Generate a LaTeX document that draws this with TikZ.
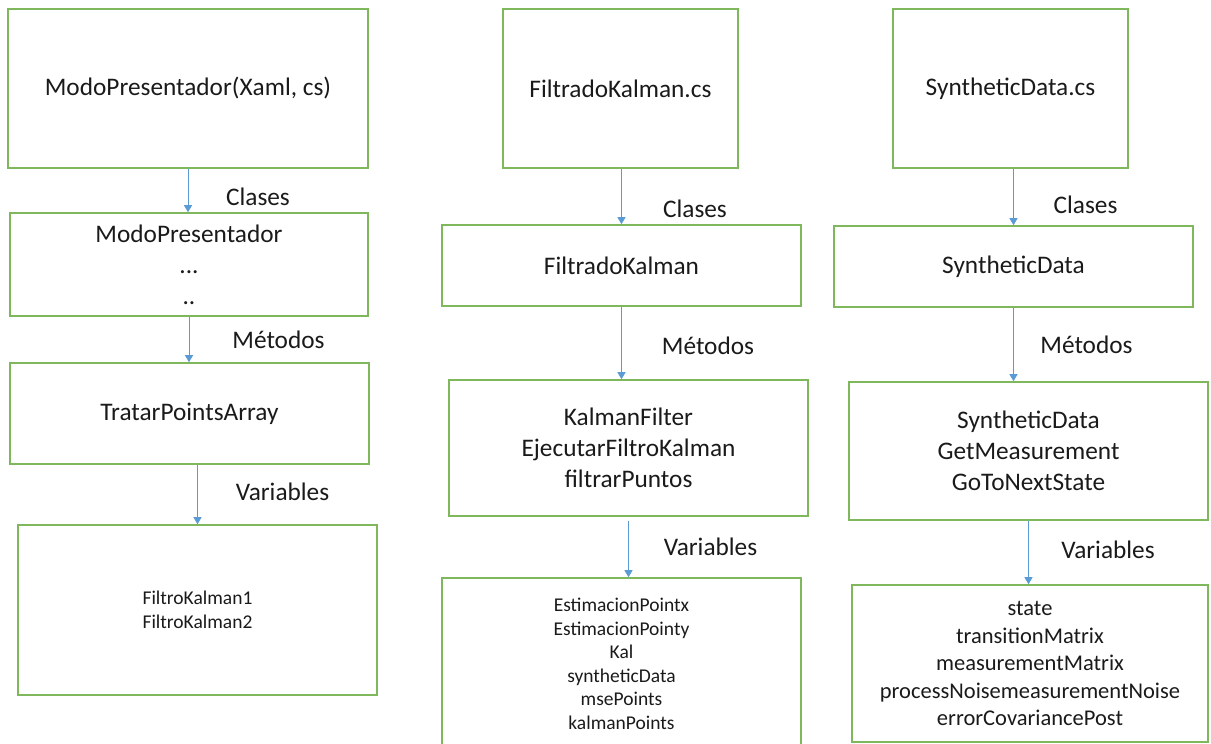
\documentclass[tikz,border=0pt]{standalone}
\usepackage{fontspec}
\setmainfont{Carlito}
\usetikzlibrary{arrows.meta}

\definecolor{verdecaja}{HTML}{7FB85C}
\definecolor{azulflecha}{HTML}{5B9BD5}
\definecolor{texto}{HTML}{1A1A1A}

\tikzset{
  caja/.style={draw=verdecaja, line width=1.6pt, align=center, inner sep=0pt,
    text=texto, font=\fontsize{25.3}{31}\selectfont},
  cajachica/.style={caja, font=\fontsize{19.5}{23.5}\selectfont},
  cajamedia/.style={caja, font=\fontsize{22.5}{27.5}\selectfont},
  flecha/.style={draw=azulflecha, line width=1pt,
    -{Triangle[width=8pt,length=7pt,fill=azulflecha]}},
  rotulo/.style={anchor=base, inner sep=0pt, text=texto,
    font=\fontsize{25.3}{31}\selectfont}
}

\begin{document}
\begin{tikzpicture}[x=1pt,y=-1pt]
  \useasboundingbox (0,0) rectangle (1211,744);

  % columna de ModoPresentador
  \node[caja, minimum width=360, minimum height=159] (modo) at (188,88.5) {ModoPresentador(Xaml, cs)};
  \node[caja, minimum width=358, minimum height=103] (modoClases) at (189,264.5) {ModoPresentador\\...\\..};
  \node[caja, minimum width=359, minimum height=101] (modoMetodos) at (189.5,413.5) {TratarPointsArray};
  \node[cajachica, minimum width=359, minimum height=170] (modoVars) at (197.5,610) {FiltroKalman1\\FiltroKalman2};

  \node[rotulo] (modoR1) at (258,205) {Clases};
  \node[rotulo] (modoR2) at (278.5,348) {Métodos};
  \node[rotulo] (modoR3) at (282.5,500) {Variables};

  \draw[flecha] (modo.south) -- (modo.south |- modoClases.north);
  \draw[flecha] (modoClases.south) -- (modoClases.south |- modoMetodos.north);
  \draw[flecha] (modoMetodos.south -| modoVars.north) -- (modoVars.north);

  % columna de FiltradoKalman
  \node[caja, minimum width=235, minimum height=159] (filtrado) at (620.5,88.5) {FiltradoKalman.cs};
  \node[caja, minimum width=359, minimum height=81] (filtradoClases) at (621.5,265.5) {FiltradoKalman};
  \node[caja, minimum width=359, minimum height=136] (filtradoMetodos) at (628.5,448) {KalmanFilter\\EjecutarFiltroKalman\\filtrarPuntos};
  \node[cajachica, minimum width=359, minimum height=172] (filtradoVars) at (621.5,664) {EstimacionPointx\\EstimacionPointy\\Kal\\syntheticData\\msePoints\\kalmanPoints};

  \node[rotulo] (filtradoR1) at (695,217) {Clases};
  \node[rotulo] (filtradoR2) at (708,354) {Métodos};
  \node[rotulo] (filtradoR3) at (710.5,555) {Variables};

  \draw[flecha] (filtrado.south -| filtradoClases.north) -- (filtradoClases.north);
  \draw[flecha] (filtradoClases.south) -- (filtradoClases.south |- filtradoMetodos.north);
  \draw[flecha, shorten <=4pt] (filtradoMetodos.south) -- (filtradoMetodos.south |- filtradoVars.north);

  % columna de SyntheticData
  \node[caja, minimum width=235, minimum height=159] (synth) at (1010.5,88.5) {SyntheticData.cs};
  \node[caja, minimum width=359, minimum height=81] (synthClases) at (1013.5,266.5) {SyntheticData};
  \node[caja, minimum width=359, minimum height=138] (synthMetodos) at (1028.5,451) {SyntheticData\\GetMeasurement\\GoToNextState};
  \node[cajamedia, minimum width=356, minimum height=157] (synthVars) at (1030,663.5) {state\\transitionMatrix\\measurementMatrix\\processNoisemeasurementNoise\\errorCovariancePost};

  \node[rotulo] (synthR1) at (1085.5,213) {Clases};
  \node[rotulo] (synthR2) at (1086.5,353) {Métodos};
  \node[rotulo] (synthR3) at (1108,558) {Variables};

  \draw[flecha] (synth.south -| synthClases.north) -- (synthClases.north);
  \draw[flecha] (synthClases.south) -- (synthClases.south |- synthMetodos.north);
  \draw[flecha] (synthMetodos.south) -- (synthMetodos.south |- synthVars.north);
\end{tikzpicture}
\end{document}
